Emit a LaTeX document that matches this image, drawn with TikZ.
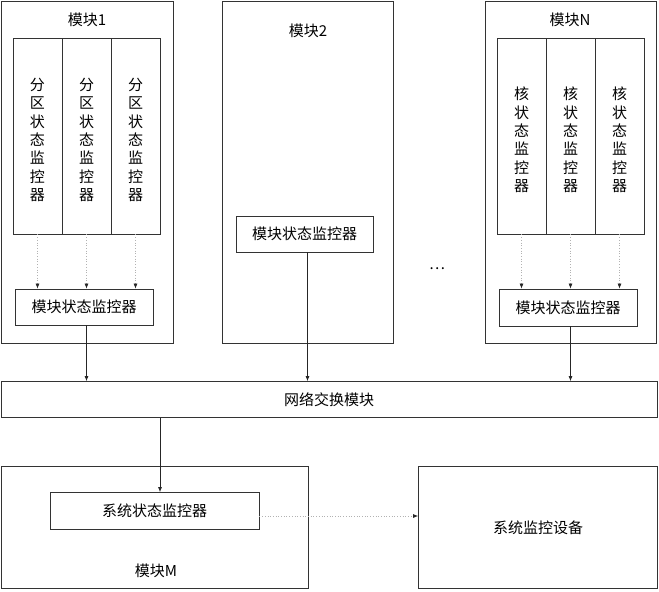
\documentclass[tikz,border=0pt]{standalone}
\usepackage{fontspec}
\usetikzlibrary{arrows.meta}
\newfontfamily\cjk{Noto Sans CJK SC}
\newcommand{\fq}   {分\\区\\状\\态\\监\\控\\器}
\newcommand{\hz}   {核\\状\\态\\监\\控\\器}
\newcommand{\mkjk} {模块状态监控器}

\begin{document}
\begin{tikzpicture}[x=1pt,y=-1pt,
    every node/.style={font=\cjk\fontsize{15}{18.4}\selectfont,inner sep=0pt},
    box/.style={draw=black!80,line width=0.8pt},
    col/.style={draw=black!80,line width=0.8pt,minimum width=49pt,minimum height=196pt},
    colt/.style={align=center,yshift=-4pt},
    arr/.style={draw=black!85,line width=0.7pt,-{Latex[length=5pt,width=4pt]}},
    dotarr/.style={draw=black!30,line width=0.7pt,dotted,-{Latex[length=5pt,width=4pt,color=black!85]}}]
   \useasboundingbox (0,0) rectangle (659,592);
   % module 1
   \begin{scope}
    \node[box,minimum width=172pt,minimum height=342pt] (m1) at (87,172) {};
    \node (m1t) at (87,20) {模块1};
    \node[col,label={[colt]center:\fq}] (c11) at (37.5,136) {};
    \node[col,label={[colt]center:\fq}] (c12) at (86.5,136) {};
    \node[col,label={[colt]center:\fq}] (c13) at (135.5,136) {};
    \node[box,minimum width=138pt,minimum height=36pt] (s1) at (84,307) {\mkjk};
    \draw[dotarr] (c11.south) -- (c11.south |- s1.north);
    \draw[dotarr] (c12.south) -- (c12.south |- s1.north);
    \draw[dotarr] (c13.south) -- (c13.south |- s1.north);
   \end{scope}
   % module 2
   \begin{scope}
    \node[box,minimum width=171pt,minimum height=342pt] (m2) at (307.5,172) {};
    \node (m2t) at (308,31) {模块2};
    \node[box,minimum width=137pt,minimum height=36pt] (s2) at (304.5,234) {\mkjk};
   \end{scope}
   \node (dots) at (437,269) {…};
   % module N
   \begin{scope}
    \node[box,minimum width=171pt,minimum height=342pt] (mn) at (571,172) {};
    \node (mnt) at (570,20) {模块N};
    \node[col,label={[colt]center:\hz}] (cn1) at (521.5,136) {};
    \node[col,label={[colt]center:\hz}] (cn2) at (570.5,136) {};
    \node[col,label={[colt]center:\hz}] (cn3) at (619.5,136) {};
    \node[box,minimum width=138pt,minimum height=37pt] (sn) at (568,307.5) {\mkjk};
    \draw[dotarr] (cn1.south) -- (cn1.south |- sn.north);
    \draw[dotarr] (cn2.south) -- (cn2.south |- sn.north);
    \draw[dotarr] (cn3.south) -- (cn3.south |- sn.north);
   \end{scope}
   % network and bottom row
   \node[box,minimum width=656pt,minimum height=36pt] (net) at (329,399.5) {网络交换模块};
   \node[box,minimum width=307pt,minimum height=122pt] (mm) at (154.5,527.5) {};
   \node (mmt) at (156,571) {模块M};
   \node[box,minimum width=209pt,minimum height=37pt] (ss) at (154.5,511) {系统状态监控器};
   \node[box,minimum width=239pt,minimum height=122pt] (dev) at (538,527.5) {系统监控设备};
   \coordinate (xm) at (160,0);
   \draw[arr] (c12.south |- s1.south) -- (c12.south |- net.north);
   \draw[arr] (m2.center |- s2.south) -- (m2.center |- net.north);
   \draw[arr] (cn2.south |- sn.south) -- (cn2.south |- net.north);
   \draw[arr] (xm |- net.south) -- (xm |- ss.north);
   \draw[dotarr] ([yshift=-5pt]ss.east) -- ([yshift=-5pt]ss.east -| dev.west);
  \end{tikzpicture}
\end{document}
